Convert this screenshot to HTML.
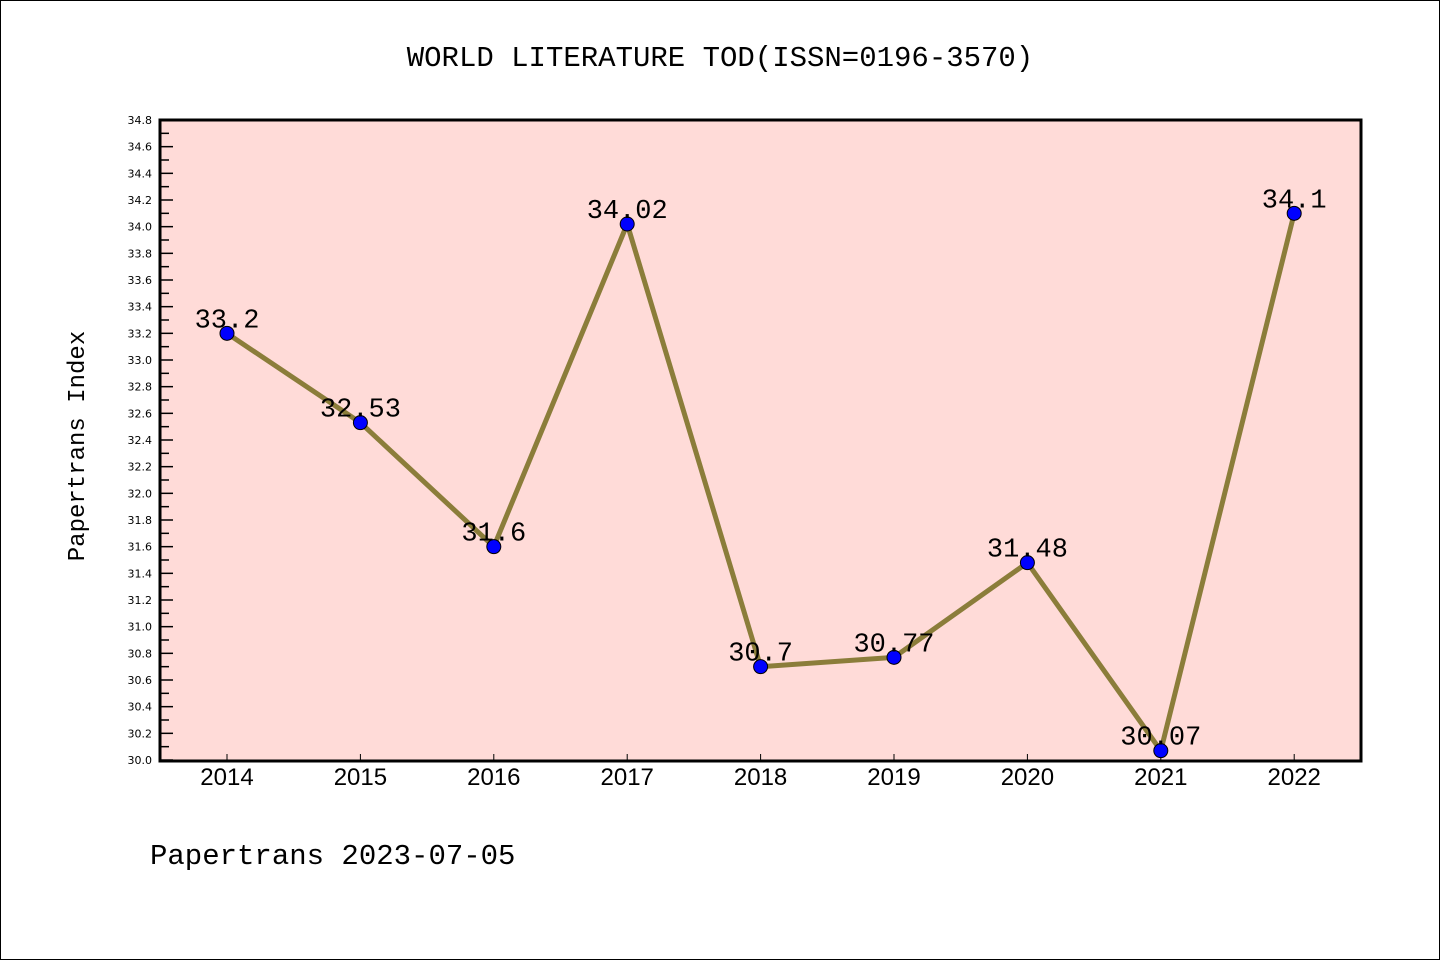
<!DOCTYPE html>
<html><head><meta charset="utf-8"><style>
body{margin:0;background:#fff}
svg{display:block}
text{font-family:"Liberation Mono","DejaVu Sans Mono",monospace}
</style></head><body>
<svg width="1440" height="960">
<rect x="0.5" y="0.5" width="1439" height="959" fill="#fff" stroke="#000"/>
<text x="720" y="66" font-size="29" text-anchor="middle">WORLD LITERATURE TOD(ISSN=0196-3570)</text>
<rect x="160" y="120" width="1201" height="641" fill="#ffdbd8"/>
<g id="yaxis"></g>
<g id="xaxis"></g>
<g id="series"></g>
<rect x="160" y="120" width="1201" height="641" fill="none" stroke="#000" stroke-width="3"/>
<text transform="translate(84,446) rotate(-90)" font-size="24" text-anchor="middle">Papertrans Index</text>
<text x="150" y="864" font-size="29">Papertrans 2023-07-05</text>
</svg>
<script>
const years=["2014","2015","2016","2017","2018","2019","2020","2021","2022"];
const values=[33.2,32.53,31.6,34.02,30.7,30.77,31.48,30.07,34.1];
const labels=["33.2","32.53","31.6","34.02","30.7","30.77","31.48","30.07","34.1"];
const yMin=30.0,yMax=34.8;
const ns="http://www.w3.org/2000/svg";
function X(i){return 227+i*133.4;}
function Y(v){return 760-(v-yMin)/(yMax-yMin)*640;}
function mk(t,a,p){const e=document.createElementNS(ns,t);for(const k in a)e.setAttribute(k,a[k]);p.appendChild(e);return e;}
const ya=document.getElementById('yaxis'),xa=document.getElementById('xaxis'),se=document.getElementById('series');
for(let k=0;k<=48;k++){const v=yMin+k*0.1,y=Y(v);const major=k%2==0;
const l=mk('line',{x1:160,x2:major?173:169,y1:y,y2:y,stroke:'#000','stroke-width':1.5},ya);

if(major){const t=mk('text',{x:152,y:y+4,'font-size':11,'text-anchor':'end',style:'font-family:"DejaVu Sans",sans-serif'},ya);t.textContent=v.toFixed(1);
}}
years.forEach((yr,i)=>{const x=X(i);
const l=mk('line',{x1:x,x2:x,y1:761,y2:754,stroke:'#000','stroke-width':1},xa);

const t=mk('text',{x:x,y:785,'font-size':24,'text-anchor':'middle',style:'font-family:"Liberation Sans",sans-serif'},xa);t.textContent=yr;
});
const pl=mk('polyline',{points:values.map((v,i)=>X(i)+','+Y(v)).join(' '),fill:'none',stroke:'#8b7d3a','stroke-width':5,'stroke-linejoin':'round'},se);

values.forEach((v,i)=>{const c=mk('circle',{cx:X(i),cy:Y(v),r:7,fill:'#0000ff',stroke:'#000','stroke-width':1},se);

const t=mk('text',{x:X(i),y:Y(v)-6,'font-size':27,'text-anchor':'middle'},se);t.textContent=labels[i];
});
</script>
</body></html>
